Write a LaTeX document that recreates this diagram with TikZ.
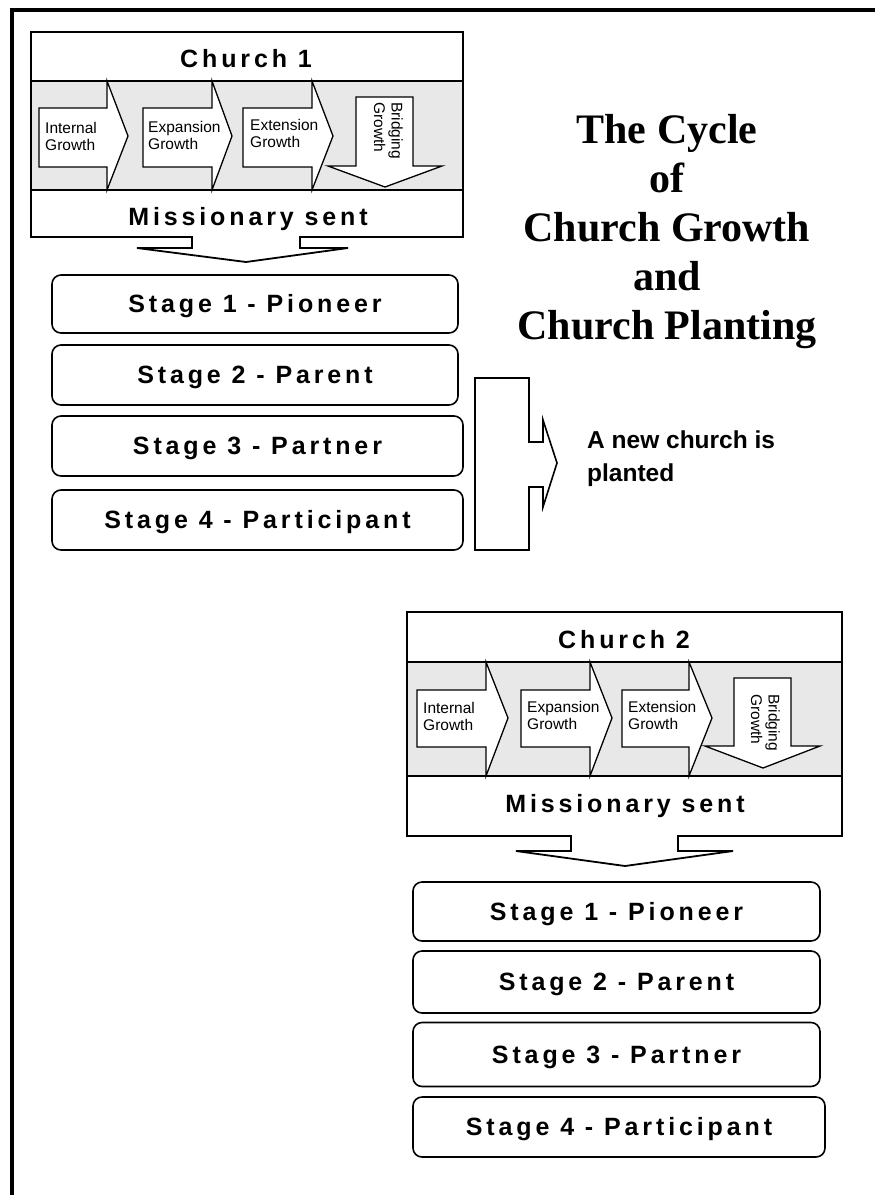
\documentclass[tikz,border=0pt]{standalone}
\usepackage{fontspec}
\setmainfont{Liberation Serif}
\newfontfamily\arial{Liberation Sans}
\newfontfamily\arialsp[LetterSpace=15.5]{Liberation Sans}
\definecolor{bandgray}{RGB}{232,232,232}
\begin{document}
\begin{tikzpicture}[x=1pt,y=-1pt,
  frameline/.style={line width=1.6pt, line join=miter},
  band/.style={draw, line width=1.8pt, inner sep=0pt, outer sep=0pt, anchor=north west},
  lbl/.style={font=\arialsp\bfseries\fontsize{25}{29}\selectfont, inner sep=0pt, anchor=base},
  stagebox/.style={draw, line width=1.6pt, rounded corners=9pt, inner sep=0pt, outer sep=0pt, text height=17.9pt, text depth=0pt, font=\arialsp\bfseries\fontsize{25}{29}\selectfont},
  growarrow/.style={draw, fill=white, line width=1.3pt, line join=miter},
  small/.style={font=\arial\fontsize{15.5}{17.5}\selectfont, inner sep=0pt, align=left, anchor=north west},
]
\useasboundingbox (0,0) rectangle (875,1195);
\draw[line width=4pt] (11.5,1195) -- (11.5,9.5) -- (875,9.5);

% ---------- Church 1 ----------
\node[band, minimum width=432pt, minimum height=49pt] (c1top) at (31,32) {};
\node[band, fill=bandgray, minimum width=432pt, minimum height=109pt] (c1mid) at (31,81) {};
\node[band, draw=none, minimum width=432pt, minimum height=47pt] (c1bot) at (31,190) {};
\node[lbl] (c1name) at (246,67) {Church 1};
\node[lbl] (c1send) at (248,225) {Missionary sent};

\draw[growarrow] (39,108) -- (107,108) -- (107,81) -- (128,136) -- (107,190) -- (107,167) -- (39,167) -- cycle;
\draw[growarrow] (143,108) -- (212,108) -- (212,81) -- (232,136) -- (212,190) -- (212,167) -- (143,167) -- cycle;
\draw[growarrow] (243,108) -- (312,108) -- (312,81) -- (333,136) -- (312,190) -- (312,167) -- (243,167) -- cycle;
\draw[growarrow] (356,97) -- (413,97) -- (413,166) -- (442,166) -- (385,187) -- (328,166) -- (356,166) -- cycle;
\node[small] (c1a1) at (45,122) {Internal\\Growth};
\node[small] (c1a2) at (148,121) {Expansion\\Growth};
\node[small] (c1a3) at (250,119) {Extension\\Growth};
\node[small, rotate=-90] (c1a4) at (403,102) {Bridging\\Growth};

\draw[frameline, line width=1.8pt] (c1bot.north west) -- (c1bot.south west) -- (192,237) -- (192,248) -- (137,248) -- (246,262) -- (348,248) -- (300,248) -- (300,237) -- (c1bot.south east) -- (c1bot.north east);

\node[stagebox, minimum width=406pt, minimum height=58pt] (c1s1) at (255,304) {Stage 1 - Pioneer};
\node[stagebox, minimum width=406pt, minimum height=60pt] (c1s2) at (255,375) {Stage 2 - Parent};
\node[stagebox, minimum width=411pt, minimum height=60pt] (c1s3) at (257.5,446) {Stage 3 - Partner};
\node[stagebox, minimum width=411pt, minimum height=60pt] (c1s4) at (257.5,520) {Stage 4 - Participant};

% ---------- planting arrow ----------
\draw[frameline] (475,378) -- (529,378) -- (529,442) -- (543,442) -- (543,420) -- (557,463) -- (543,507) -- (543,487) -- (529,487) -- (529,550) -- (475,550) -- cycle;
\node[font=\arial\bfseries\fontsize{24.5}{33}\selectfont, align=left, inner sep=0pt, anchor=north west] (newch) at (587,431) {A new church is\\planted};

% ---------- title ----------
\node[font=\bfseries\fontsize{42}{49}\selectfont, align=center, inner sep=0pt, anchor=north] (title) at (667,114) {The Cycle\\of\\Church Growth\hspace*{0.25em}\\and\\Church Planting};

% ---------- Church 2 ----------
\node[band, minimum width=435pt, minimum height=50pt] (c2top) at (407,612) {};
\node[band, fill=bandgray, minimum width=435pt, minimum height=114pt] (c2mid) at (407,662) {};
\node[band, draw=none, minimum width=435pt, minimum height=60pt] (c2bot) at (407,776) {};
\node[lbl] (c2name) at (624,648) {Church 2};
\node[lbl] (c2send) at (625,812) {Missionary sent};

\draw[growarrow] (417,690) -- (486,690) -- (486,662) -- (508,718) -- (486,776) -- (486,747) -- (417,747) -- cycle;
\draw[growarrow] (521,690) -- (590,690) -- (590,662) -- (612,718) -- (590,776) -- (590,747) -- (521,747) -- cycle;
\draw[growarrow] (622,690) -- (689,690) -- (689,662) -- (712,718) -- (689,776) -- (689,747) -- (622,747) -- cycle;
\draw[growarrow] (734,678) -- (791,678) -- (791,746) -- (820,746) -- (763,768) -- (705,746) -- (734,746) -- cycle;
\node[small] (c2a1) at (423,702) {Internal\\Growth};
\node[small] (c2a2) at (527,701) {Expansion\\Growth};
\node[small] (c2a3) at (628,701) {Extension\\Growth};
\node[small, rotate=-90] (c2a4) at (780,694) {Bridging\\Growth};

\draw[frameline, line width=1.8pt] (c2bot.north west) -- (c2bot.south west) -- (571,836) -- (571,851) -- (516,851) -- (625,866) -- (733,851) -- (678,851) -- (678,836) -- (c2bot.south east) -- (c2bot.north east);

\node[stagebox, minimum width=407pt, minimum height=59pt] (c2s1) at (616.5,911.5) {Stage 1 - Pioneer};
\node[stagebox, minimum width=407pt, minimum height=62pt] (c2s2) at (616.5,982) {Stage 2 - Parent};
\node[stagebox, minimum width=407pt, minimum height=64pt] (c2s3) at (616.5,1054.5) {Stage 3 - Partner};
\node[stagebox, minimum width=412pt, minimum height=60pt] (c2s4) at (619,1127) {Stage 4 - Participant};
\end{tikzpicture}
\end{document}
